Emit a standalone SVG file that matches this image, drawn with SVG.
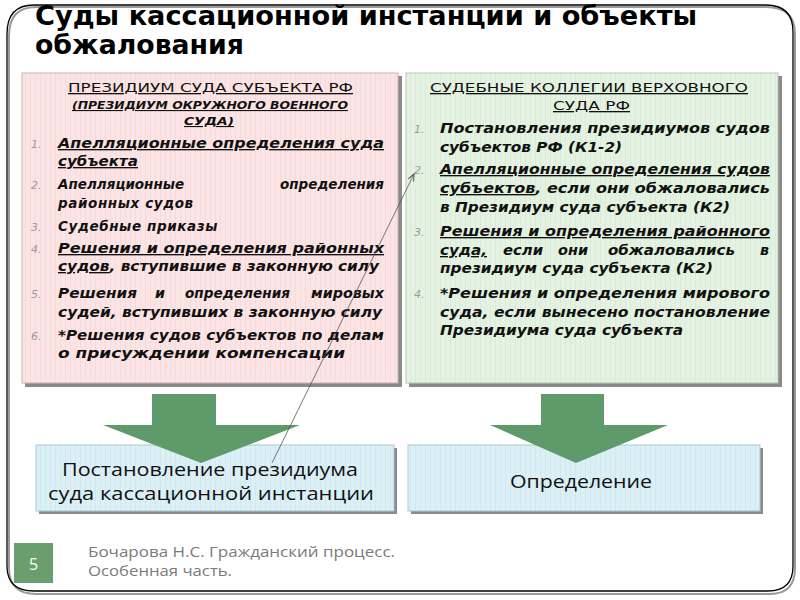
<svg xmlns="http://www.w3.org/2000/svg" width="800" height="600" viewBox="0 0 800 600">
<style>
.title{font-family:"DejaVu Sans Condensed","DejaVu Sans",sans-serif;font-stretch:condensed;font-weight:bold;font-size:26px;fill:#000}
.hdr{font-family:"DejaVu Sans",sans-serif;font-size:13px;fill:#111;text-decoration:underline}
.sub{font-family:"DejaVu Sans",sans-serif;font-size:11px;font-weight:bold;font-style:italic;fill:#111;text-decoration:underline}
.it{font-family:"DejaVu Sans",sans-serif;font-size:13.5px;font-weight:bold;font-style:italic;fill:#111}
.u{text-decoration:underline}
.num{font-family:"DejaVu Sans",sans-serif;font-size:11px;font-style:italic;fill:#9a9a9a}
.res{font-family:"Open Sans","DejaVu Sans",sans-serif;font-size:18px;fill:#111}
.foot{font-family:"Open Sans","DejaVu Sans",sans-serif;font-size:15px;fill:#7a7a7a}
.arrow{fill:#5f9a6a}
.shadow{fill:#8a8a8a}
</style>
<defs>
<pattern id="stripes" width="5" height="10" patternUnits="userSpaceOnUse">
<rect x="0" y="0" width="1" height="10" fill="#000" opacity="0.035"/>
</pattern>
<marker id="ah" markerWidth="8" markerHeight="8" refX="7" refY="4" orient="auto" markerUnits="userSpaceOnUse">
<path d="M0,1 L7,4 L0,7" fill="none" stroke="#555" stroke-width="1"/>
</marker>
</defs>
<rect width="800" height="600" fill="#fff"/>
<!-- outer frame -->
<path d="M9,36 Q9,7 36,7 L766,7 Q795,7 795,34 L795,568 Q795,594 770,594 L36,594 Q9,594 9,568 Z" fill="none" stroke="#9a9a9a" stroke-width="2"/>
<path d="M7,34 Q7,5 34,5 L766,5 Q793,5 793,32 L793,566 Q793,591 768,591 L34,591 Q7,591 7,566 Z" fill="none" stroke="#000" stroke-width="1.3"/>

<g id="title">
<text class="title" x="35" y="24.5" textLength="662" lengthAdjust="spacingAndGlyphs">Суды кассационной инстанции и объекты</text>
<text class="title" x="35" y="54" textLength="209" lengthAdjust="spacingAndGlyphs">обжалования</text>
</g>

<g id="left-box">
<rect class="shadow" x="25" y="76" width="377" height="311"/>
<rect x="22" y="73" width="376" height="310" fill="#fde4e4" stroke="#c8b4b4" stroke-width="1"/>
<rect x="22" y="73" width="376" height="310" fill="url(#stripes)"/>
<text class="hdr" x="68" y="92" textLength="285" lengthAdjust="spacingAndGlyphs">ПРЕЗИДИУМ СУДА СУБЪЕКТА РФ</text>
<text class="sub" x="72" y="109" textLength="276" lengthAdjust="spacingAndGlyphs">(ПРЕЗИДИУМ ОКРУЖНОГО ВОЕННОГО</text>
<text class="sub" x="184" y="125" textLength="50" lengthAdjust="spacingAndGlyphs">СУДА)</text>
<text class="num" x="31" y="148">1.</text>
<text class="it u" x="58" y="148" textLength="326" lengthAdjust="spacingAndGlyphs">Апелляционные определения суда</text>
<text class="it u" x="58" y="166" textLength="80" lengthAdjust="spacingAndGlyphs">субъекта</text>
<text class="num" x="31" y="189">2.</text>
<text class="it" x="58" y="189">Апелляционные</text>
<text class="it" x="384" y="189" text-anchor="end">определения</text>
<text class="it" x="58" y="208" letter-spacing="0.6">районных судов</text>
<text class="num" x="31" y="231">3.</text>
<text class="it" x="58" y="231" letter-spacing="0.6">Судебные приказы</text>
<text class="num" x="31" y="253">4.</text>
<text class="it u" x="58" y="253" textLength="326" lengthAdjust="spacingAndGlyphs">Решения и определения районных</text>
<text class="it" x="58" y="271" textLength="321" lengthAdjust="spacingAndGlyphs"><tspan class="u">судов</tspan>, вступившие в законную силу</text>
<text class="num" x="31" y="298">5.</text>
<text class="it" x="58" y="298" textLength="79" lengthAdjust="spacingAndGlyphs">Решения</text>
<text class="it" x="155" y="298" textLength="10" lengthAdjust="spacingAndGlyphs">и</text>
<text class="it" x="185" y="298" textLength="105" lengthAdjust="spacingAndGlyphs">определения</text>
<text class="it" x="311" y="298" textLength="73" lengthAdjust="spacingAndGlyphs">мировых</text>
<text class="it" x="58" y="317" textLength="324" lengthAdjust="spacingAndGlyphs">судей, вступивших в законную силу</text>
<text class="num" x="31" y="340">6.</text>
<text class="it" x="58" y="340" textLength="326" lengthAdjust="spacingAndGlyphs">*Решения судов субъектов по делам</text>
<text class="it" x="58" y="358" textLength="287" lengthAdjust="spacingAndGlyphs">о присуждении компенсации</text>
</g>

<g id="right-box">
<rect class="shadow" x="409" y="76" width="373" height="311"/>
<rect x="406" y="73" width="372" height="310" fill="#e4f3e1" stroke="#b8c8b8" stroke-width="1"/>
<rect x="406" y="73" width="372" height="310" fill="url(#stripes)"/>
<text class="hdr" x="430" y="92" textLength="318" lengthAdjust="spacingAndGlyphs">СУДЕБНЫЕ КОЛЛЕГИИ ВЕРХОВНОГО</text>
<text class="hdr" x="553" y="110" textLength="77" lengthAdjust="spacingAndGlyphs">СУДА РФ</text>
<text class="num" x="414" y="133">1.</text>
<text class="it" x="440" y="133" textLength="330" lengthAdjust="spacingAndGlyphs">Постановления президиумов судов</text>
<text class="it" x="440" y="152" textLength="182" lengthAdjust="spacingAndGlyphs">субъектов РФ (К1-2)</text>
<text class="num" x="414" y="174">2.</text>
<text class="it u" x="440" y="174" textLength="330" lengthAdjust="spacingAndGlyphs">Апелляционные определения судов</text>
<text class="it" x="440" y="193" textLength="330" lengthAdjust="spacingAndGlyphs"><tspan class="u">субъектов</tspan>, если они обжаловались</text>
<text class="it" x="440" y="212" textLength="290" lengthAdjust="spacingAndGlyphs">в Президиум суда субъекта (К2)</text>
<text class="num" x="414" y="236">3.</text>
<text class="it u" x="440" y="236" textLength="330" lengthAdjust="spacingAndGlyphs">Решения и определения районного</text>
<text class="it u" x="440" y="255" textLength="47" lengthAdjust="spacingAndGlyphs">суда,</text>
<text class="it" x="503" y="255" textLength="40" lengthAdjust="spacingAndGlyphs">если</text>
<text class="it" x="558" y="255" textLength="30" lengthAdjust="spacingAndGlyphs">они</text>
<text class="it" x="608" y="255" textLength="127" lengthAdjust="spacingAndGlyphs">обжаловались</text>
<text class="it" x="760" y="255" textLength="9" lengthAdjust="spacingAndGlyphs">в</text>
<text class="it" x="440" y="273" textLength="273" lengthAdjust="spacingAndGlyphs">президиум суда субъекта (К2)</text>
<text class="num" x="414" y="298">4.</text>
<text class="it" x="440" y="298" textLength="330" lengthAdjust="spacingAndGlyphs">*Решения и определения мирового</text>
<text class="it" x="440" y="317" textLength="330" lengthAdjust="spacingAndGlyphs">суда, если вынесено постановление</text>
<text class="it" x="440" y="335" textLength="243" lengthAdjust="spacingAndGlyphs">Президиума суда субъекта</text>
</g>

<g id="result-left">
<rect class="shadow" x="39" y="448" width="358" height="66"/>
<rect x="36" y="445" width="358" height="66" fill="#dbf0f6" stroke="#a9c9d3" stroke-width="1"/>
<rect x="36" y="445" width="358" height="66" fill="url(#stripes)"/>
<text class="res" x="62" y="476" textLength="296" lengthAdjust="spacingAndGlyphs">Постановление президиума</text>
<text class="res" x="48" y="500" textLength="326" lengthAdjust="spacingAndGlyphs">суда кассационной инстанции</text>
</g>

<g id="result-right">
<rect class="shadow" x="411" y="448" width="352" height="66"/>
<rect x="408" y="445" width="352" height="66" fill="#dbf0f6" stroke="#a9c9d3" stroke-width="1"/>
<rect x="408" y="445" width="352" height="66" fill="url(#stripes)"/>
<text class="res" x="510" y="488" textLength="142" lengthAdjust="spacingAndGlyphs">Определение</text>
</g>

<g id="arrow-left">
<path class="arrow" d="M152,394 L216,394 L216,425 L300,425 L201,463 L103,425 L152,425 Z"/>
</g>
<g id="arrow-right">
<path class="arrow" d="M541,394 L604,394 L604,425 L668,425 L576,463 L490,425 L541,425 Z"/>
</g>

<g id="connectors">
<line x1="272" y1="463" x2="414" y2="174" stroke="#555" stroke-width="0.8" marker-end="url(#ah)"/>
</g>

<g id="footer">
<rect x="14" y="543" width="39" height="40" fill="#6a9e6e"/>
<text x="33.5" y="570" text-anchor="middle" font-family="Open Sans, DejaVu Sans, sans-serif" font-size="16" fill="#fff">5</text>
<text class="foot" x="88" y="557" textLength="307" lengthAdjust="spacingAndGlyphs">Бочарова Н.С. Гражданский процесс.</text>
<text class="foot" x="88" y="576" textLength="144" lengthAdjust="spacingAndGlyphs">Особенная часть.</text>
</g>
</svg>
